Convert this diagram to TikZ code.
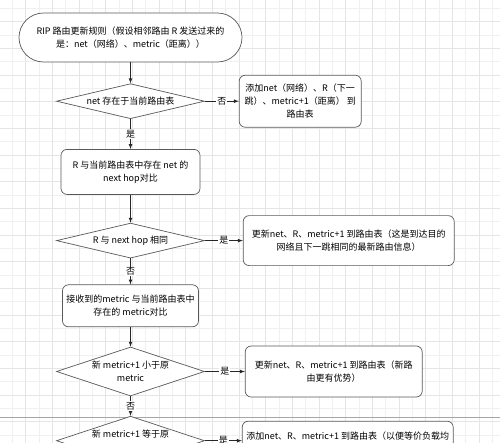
\documentclass[tikz,border=0pt]{standalone}
\usepackage{fontspec}
\setmainfont{Noto Sans CJK SC}
\usetikzlibrary{shapes,arrows}
\usetikzlibrary{positioning}

\begin{document}
\begin{tikzpicture}[x=1pt,y=1pt,every text node part/.style={align=center}]
\tikzset{myFont/.style={font=\fontsize{9}{13}\selectfont}}
\tikzset{myBox/.style={draw=black!65,fill=white,rounded corners=6pt,line width=.7pt,inner sep=2pt,myFont}}
\tikzset{myStart/.style={myBox,rounded corners=24.5pt,minimum width=223pt,minimum height=49pt}}
\tikzset{myDecision/.style={draw=black!65,fill=white,diamond,shape aspect=4.2,inner sep=-1.5pt,line width=.7pt,minimum width=148pt,minimum height=35pt,myFont}}
\tikzset{myTall/.style={shape aspect=3.02,inner sep=-4pt,minimum height=49pt}}
\tikzset{myArrow/.style={draw=black!85,line width=.7pt,-latex}}
\tikzset{myLabel/.style={fill=white,inner sep=1pt,myFont}}
\tikzset{myGrid/.style={draw=black!6,line width=.5pt}}

\useasboundingbox (0,0) rectangle (500,-442);
\clip (0,0) rectangle (500,-442);
% background grid and page break
\draw[myGrid,xshift=-1pt,yshift=-8.333pt,step=13.333] (-20,-460) grid (520,20);
\draw[myGrid,draw=black!10,xshift=-1pt,yshift=-21.667pt,step=26.667] (-40,-460) grid (540,40);
\draw[black!35,line width=.8pt] (0,-417) -- (500,-417);

\node[myStart] (start) at (130.5,-37.5) {RIP 路由更新规则（假设相邻路由 R 发送过来的\\是：net（网络）、metric（距离））};
\node[myDecision,below=21pt of start] (exist) {net 存在于当前路由表};
\node[myBox,right=34pt of exist,minimum width=122pt,minimum height=52pt] (addnet) {添加net（网络）、R（下一\\跳）、metric+1（距离） 到\\路由表};
\path (start) edge[myArrow] (exist);
\path (exist.east) edge[myArrow] node[myLabel]{否} (addnet.west);

\node[myBox,below=30pt of exist,minimum width=139pt,minimum height=45pt] (cmphop) {R 与当前路由表中存在 net 的\\next hop对比};
\node[myDecision,below=28pt of cmphop] (samehop) {R 与 next hop 相同};
\node[myBox,right=38pt of samehop,minimum width=211pt,minimum height=50pt] (updsame) {更新net、R、metric+1 到路由表（这是到达目的\\网络且下一跳相同的最新路由信息）};
\path (exist) edge[myArrow] node[myLabel]{是} (cmphop);
\path (cmphop) edge[myArrow] (samehop);
\path (samehop.east) edge[myArrow] node[myLabel]{是} (updsame.west);

\node[myBox,below=26pt of samehop,minimum width=136pt,minimum height=42pt] (cmpmetric) {接收到的metric 与当前路由表中\\存在的 metric对比};
\node[myDecision,myTall,below=19.5pt of cmpmetric] (less) {新 metric+1 小于原\\metric};
\node[myBox,right=40pt of less,minimum width=177pt,minimum height=51pt] (updless) {更新net、R、metric+1 到路由表（新路\\由更有优势）};
\path (samehop) edge[myArrow] node[myLabel]{否} (cmpmetric);
\path (cmpmetric) edge[myArrow] (less);
\path (less.east) edge[myArrow] node[myLabel]{是} (updless.west);

\node[myDecision,myTall,below=19.5pt of less] (equal) {新 metric+1 等于原\\\phantom{metric}};
\node[myBox,right=37pt of equal,yshift=-2pt,minimum width=211pt,minimum height=43pt] (addequal) {添加net、R、metric+1 到路由表（以便等价负载均\\\phantom{衡}};
\path (less) edge[myArrow] node[myLabel]{否} (equal);
\path (equal.east) edge[myArrow] node[myLabel]{是} (equal.east -| addequal.west);

\end{tikzpicture}
\end{document}
